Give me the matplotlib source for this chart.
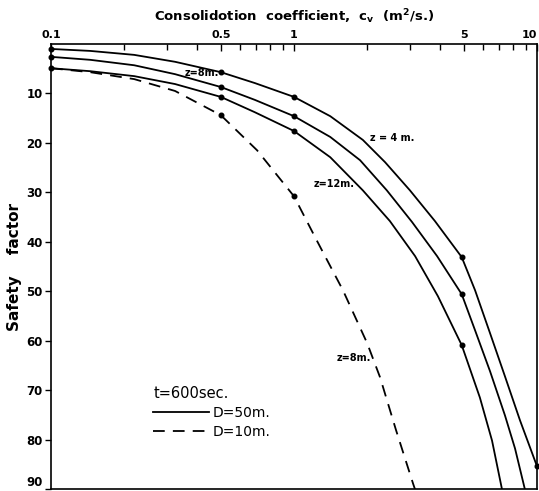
import matplotlib
matplotlib.use("Agg")
import matplotlib.pyplot as plt
from matplotlib.lines import Line2D
from matplotlib.ticker import FixedLocator, NullFormatter

# consolidation coefficient c_v (m2/s) vs safety factor
# D = 50 m, z = 4 m
cv_z4 = [0.1, 0.145, 0.22, 0.324, 0.5, 0.69, 1.0, 1.41, 1.92, 2.37, 3.0, 3.8, 4.9,
         5.56, 6.41, 7.38, 8.51, 10.0]
sf_z4 = [1.0, 1.4, 2.2, 3.6, 5.7, 7.9, 10.7, 14.6, 19.4, 23.9, 29.6, 35.8, 43.1,
         49.8, 58.5, 67.2, 76.1, 85.4]
# D = 50 m, z = 8 m
cv_z8 = [0.1, 0.145, 0.22, 0.324, 0.5, 0.69, 1.0, 1.41, 1.87, 2.41, 3.06, 3.88, 4.9,
         5.56, 6.41, 7.38, 8.12, 8.92]
sf_z8 = [2.6, 3.2, 4.3, 6.1, 8.7, 11.3, 14.6, 18.8, 23.5, 29.6, 36.0, 42.9, 50.6,
         57.9, 66.2, 75.1, 81.8, 90.1]
# D = 50 m, z = 12 m
cv_z12 = [0.1, 0.145, 0.22, 0.324, 0.5, 0.69, 1.0, 1.41, 1.92, 2.48, 3.15, 3.91, 4.9,
          5.82, 6.53, 7.18]
sf_z12 = [4.9, 5.5, 6.5, 8.1, 10.7, 13.8, 17.6, 22.9, 29.6, 35.8, 42.9, 51.0, 60.9,
          71.5, 80.2, 90.1]
# D = 10 m, z = 8 m
cv_d10 = [0.1, 0.145, 0.22, 0.324, 0.5, 0.705, 1.0, 1.24, 1.59, 2.0, 2.26, 2.63, 3.09, 3.15]
sf_d10 = [4.9, 5.7, 7.1, 9.5, 14.4, 21.5, 30.8, 39.7, 49.8, 60.5, 67.4, 78.1, 88.9, 90.1]

# marked points
dots_z4 = ([0.1, 0.5, 1.0, 4.9, 10.0], [1.0, 5.7, 10.7, 43.1, 85.4])
dots_z8 = ([0.1, 0.5, 1.0, 4.9], [2.6, 8.7, 14.6, 50.6])
dots_z12 = ([0.1, 0.5, 1.0, 4.9], [4.9, 10.7, 17.6, 60.9])
dots_d10 = ([0.5, 1.0], [14.4, 30.8])

major_x = [0.1, 0.5, 1, 5, 10]
major_x_labels = ["0.1", "0.5", "1", "5", "10"]
minor_x = [0.2, 0.3, 0.4, 0.6, 0.7, 0.8, 0.9, 2, 3, 4, 6, 7, 8, 9]
y_ticks = [10, 20, 30, 40, 50, 60, 70, 80, 90]

plt.rcParams['font.family'] = ['DejaVu Sans']
fig = plt.figure(figsize=(5.39, 4.91), dpi=100)
ax = fig.add_axes([0.0946, 0.004, 0.9017, 0.9064])

k = 'black'
lw = 1.3
dash = (6.5, 4.5)
ax.plot(cv_z4, sf_z4, color=k, lw=lw)
ax.plot(cv_z8, sf_z8, color=k, lw=lw)
ax.plot(cv_z12, sf_z12, color=k, lw=lw)
ax.plot(cv_d10, sf_d10, color=k, lw=lw, dashes=dash)
for xs, ys in (dots_z4, dots_z8, dots_z12, dots_d10):
    ax.plot(xs, ys, 'o', color=k, ms=3.3, clip_on=False)

ax.set_xscale('log')
ax.set_xlim(0.1, 10)
ax.set_ylim(90, 0)

ax.xaxis.tick_top()
ax.xaxis.set_label_position('top')
ax.xaxis.set_major_locator(FixedLocator(major_x))
ax.xaxis.set_minor_locator(FixedLocator(minor_x))
ax.xaxis.set_minor_formatter(NullFormatter())
ax.set_xticklabels(major_x_labels, fontsize=8, fontweight='bold')
ax.get_xticklabels()[-1].set_horizontalalignment('right')
ax.tick_params(axis='x', which='both', direction='in', top=True, bottom=False, pad=3)
ax.tick_params(axis='x', which='major', length=5, width=1)
ax.tick_params(axis='x', which='minor', length=4, width=1)

ax.set_yticks(y_ticks)
ax.set_yticklabels([str(v) for v in y_ticks], fontsize=8.5, fontweight='bold')
ax.get_yticklabels()[-1].set_verticalalignment('bottom')
ax.tick_params(axis='y', direction='out', length=4, width=1, left=True, right=False, pad=2)

for s in ax.spines.values():
    s.set_linewidth(1.2)

ax.set_xlabel(r"Consolidotion  coefficient,  c$_\mathbf{v}$  (m$^\mathbf{2}$/s.)",
              fontsize=9.5, fontweight='bold', labelpad=6)
ax.set_ylabel("Safety    factor", fontsize=11, fontweight='bold', labelpad=3)

# curve labels
ax.text(0.355, 5.8, "z=8m.", fontsize=7, fontweight='bold', va='center')
ax.text(2.05, 19.0, "z = 4 m.", fontsize=7, fontweight='bold', va='center')
ax.text(1.2, 28.3, "z=12m.", fontsize=7, fontweight='bold', va='center')
ax.text(1.5, 63.4, "z=8m.", fontsize=7, fontweight='bold', va='center')

handles = [Line2D([], [], color=k, lw=lw),
           Line2D([], [], color=k, lw=lw, dashes=dash)]
ax.legend(handles, ["D=50m.", "D=10m."], title="t=600sec.", loc='upper left',
          bbox_to_anchor=(0.185, 0.26), frameon=False, fontsize=10,
          title_fontsize=10.5, handlelength=4.0, handletextpad=0.3,
          labelspacing=0.35, alignment='left')

fig.savefig("out.png", dpi=100)
